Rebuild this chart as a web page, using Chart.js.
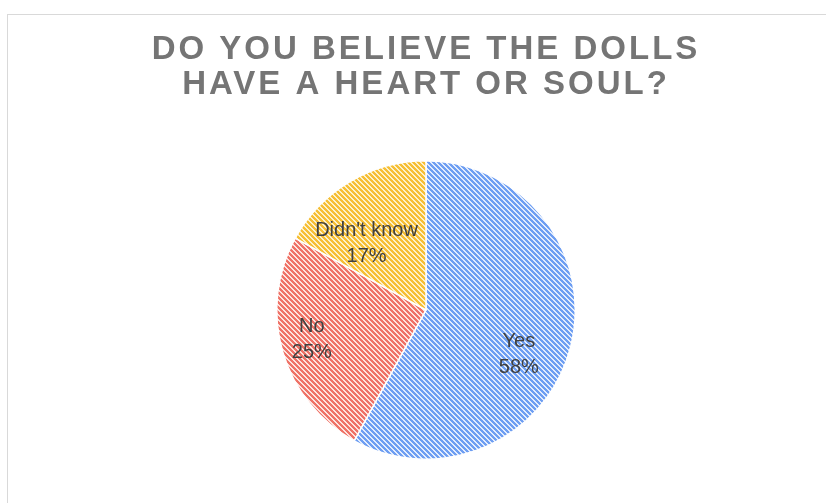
<!DOCTYPE html>
<html>
<head>
<meta charset="utf-8">
<script src="https://cdn.jsdelivr.net/npm/chart.js@4/dist/chart.umd.min.js"></script>
<style>
  html, body { margin: 0; padding: 0; background: #fff; }
  #wrap { width: 826px; height: 503px; }
</style>
</head>
<body>
<div id="wrap"><canvas id="chart"></canvas></div>
<script>
const categories = ["Yes", "No", "Didn't know"];
const percents = [58, 25, 17];
const stripeColors = ["#6e9ef2", "#ef7267", "#f6bf35"];
const gapColors = ["#e3edfd", "#fde3df", "#fdf1cc"];
const titleLines = ["DO YOU BELIEVE THE DOLLS", "HAVE A HEART OR SOUL?"];

// where each label sits inside its slice: t = fraction along the arc, r = fraction of radius
const labelPlace = [
  { t: 0.554, r: 0.69 },
  { t: 0.52, r: 0.79 },
  { t: 0.32, r: 0.6 },
];

// crisp pixel hatch, stripes running top-left to bottom-right
function hatch(color, gap) {
  const s = 5;
  const c = document.createElement("canvas");
  c.width = s;
  c.height = s;
  const g = c.getContext("2d");
  g.fillStyle = gap;
  g.fillRect(0, 0, s, s);
  g.fillStyle = color;
  for (let y = 0; y < s; y++) {
    for (let x = 0; x < s; x++) {
      const d = (((x - y) % s) + s) % s;
      if (d < 3) g.fillRect(x, y, 1, 1);
    }
  }
  return g.createPattern(c, "repeat");
}

const frame = {
  id: "frame",
  beforeDraw(chart) {
    const ctx = chart.ctx;
    ctx.save();
    ctx.strokeStyle = "#d9d9d9";
    ctx.lineWidth = 1;
    ctx.strokeRect(7.5, 14.5, 900, 600);
    ctx.restore();
    ctx.letterSpacing = "3px";
  },
  afterDraw(chart) {
    chart.ctx.letterSpacing = "0px";
  },
};

const sliceLabels = {
  id: "sliceLabels",
  afterDatasetsDraw(chart) {
    const ctx = chart.ctx;
    const meta = chart.getDatasetMeta(0);
    ctx.save();
    ctx.letterSpacing = "0px";
    ctx.font = "20px 'Liberation Sans', Arial, sans-serif";
    ctx.fillStyle = "#404040";
    ctx.textAlign = "center";
    ctx.textBaseline = "middle";
    meta.data.forEach((arc, i) => {
      const p = arc.getProps(["x", "y", "startAngle", "endAngle", "outerRadius"], true);
      const a = p.startAngle + (p.endAngle - p.startAngle) * labelPlace[i].t;
      const rr = p.outerRadius * labelPlace[i].r;
      const x = p.x + Math.cos(a) * rr;
      const y = p.y + Math.sin(a) * rr;
      ctx.fillText(categories[i], x, y - 13);
      ctx.fillText(percents[i] + "%", x, y + 13);
    });
    ctx.restore();
  },
};

new Chart(document.getElementById("chart"), {
  type: "pie",
  data: {
    labels: categories,
    datasets: [
      {
        data: percents,
        backgroundColor: stripeColors.map((c, i) => hatch(c, gapColors[i])),
        borderColor: "#ffffff",
        borderWidth: 1.5,
      },
    ],
  },
  options: {
    responsive: true,
    maintainAspectRatio: false,
    animation: false,
    layout: { padding: { left: 26, right: 0, top: 0, bottom: 43 } },
    plugins: {
      legend: { display: false },
      tooltip: { enabled: false },
      title: {
        display: true,
        text: titleLines,
        color: "#757575",
        font: { family: "'Liberation Sans', Arial, sans-serif", size: 33, weight: "bold", lineHeight: 1.06 },
        padding: { top: 32.5, bottom: 57.5 },
      },
    },
  },
  plugins: [frame, sliceLabels],
});
</script>
</body>
</html>
